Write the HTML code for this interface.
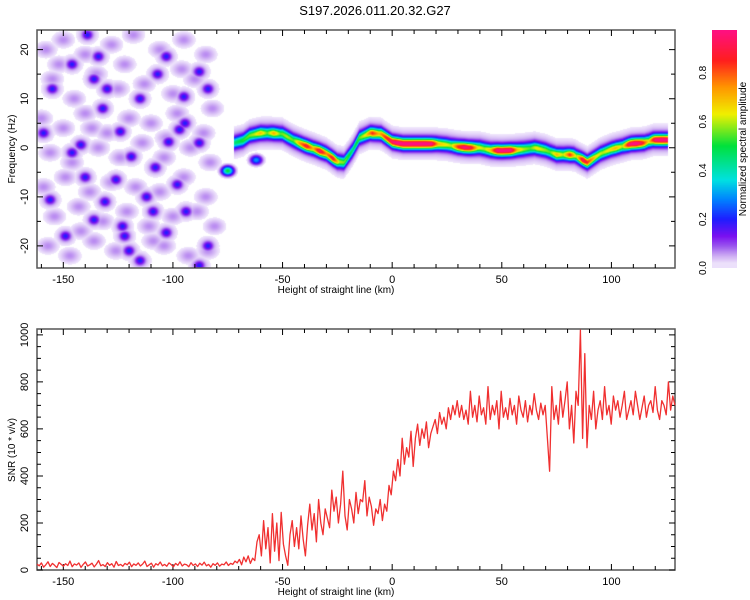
<!DOCTYPE html>
<html><head><meta charset="utf-8">
<style>
html,body{margin:0;padding:0;background:#fff;}
#wrap{position:relative;width:750px;height:600px;overflow:hidden;font-family:"Liberation Sans",sans-serif;}
canvas{position:absolute;}
svg{position:absolute;left:0;top:0;}
text{font-family:"Liberation Sans",sans-serif;fill:#000;}
</style></head>
<body>
<div id="wrap">
<canvas id="heat" width="638" height="238" style="left:37px;top:30px"></canvas>
<canvas id="cbar" width="25" height="238" style="left:712px;top:30px"></canvas>
<svg id="svg" width="750" height="600"></svg>
</div>
<script>
// ---------- data ----------
const xMin = -162, xMax = 129;
const fMin = -24.5, fMax = 24;
const snrMax = 1025;
const xTicks = [-150, -100, -50, 0, 50, 100];
const fTicks = [-20, -10, 0, 10, 20];
const snrTicks = [0, 200, 400, 600, 800, 1000];
const cbTicks = ["0.0", "0.2", "0.4", "0.6", "0.8"];

const ridgeX = [-72,-68,-65,-60,-55,-50,-45,-40,-35,-30,-25,-22,-18,-15,-10,-5,0,5,10,20,25,30,35,40,45,50,55,60,65,70,75,80,83,89,95,100,105,109,115,119,124,126];
const ridgeF = [1,1.5,2.5,3,3,2.8,1.5,0.5,-0.3,-1.2,-2.8,-3,-0.5,2,3,2.8,1.2,0.8,0.8,0.8,0.6,0.2,0,0,-0.5,-0.6,-0.5,-0.3,0,-0.5,-1.4,-1.4,-1.5,-3,-1.2,-0.3,0.3,0.8,1,1.6,1.6,1.6];

const ampX = [-72,-69,-66,-63,-60,-57,-54,-51,-48,-45,-42,-39,-36,-33,-30,-27,-24,-21,-18,-15,-12,-9,-6,-3,0,3,6,9,12,15,18,21,24,27,30,33,36,39,42,45,48,51,54,57,60,63,66,69,72,75,78,81,84,87,90,93,96,99,102,105,108,111,114,117,120,123,126];
const ampA = [.35,.4,.45,.5,.6,.45,.62,.45,.5,.45,.65,.8,.6,.85,.65,.8,.5,.45,.35,.45,.55,.75,.6,.75,.85,.92,.92,.92,.92,.92,.88,.6,.55,.5,.75,.88,.8,.55,.5,.6,.9,.9,.9,.6,.5,.45,.55,.5,.45,.6,.5,.75,.5,.85,.7,.55,.5,.55,.6,.5,.85,.92,.8,.55,.88,.92,.88];

const blobX = [-75,-62];
const blobF = [-4.7,-2.5];
const blobA = [0.5,0.3];

const darkX = [-134,-103,-94.5,-88,-107,-124,-142,-132,-108,-123,-122,-109,-149,-88,-131,-98,-140,-115,-155,-159,-136,-84,-120,-115,-97,-130,-146,-139,-146,-126,-94,-102,-112,-88,-156,-136,-103,-84,-95,-119];
const darkF = [18.6,18.6,5,1,15,3.3,0.6,8,-4,-16,-18,-13,-18,-24,-11,-7.5,-6,10,12,3,14,12,-21,-23,3.7,12,17,23,-1,-6.5,-13,1.2,-10,15.5,-10.6,-14.7,-17.3,-20,10.4,-1.8];

const faintX = [-158,-150,-140,-128,-118,-106,-95,-85,-155,-145,-135,-125,-113,-100,-90,-82,-160,-150,-140,-130,-120,-110,-98,-86,-156,-146,-134,-124,-114,-104,-92,-83,-159,-149,-138,-128,-117,-106,-95,-85,-154,-143,-132,-121,-111,-100,-89,-81,-157,-147,-136,-126,-115,-104,-93,-84,-152,-122,-96,-142,-109,-137,-103];
const faintF = [20,22,19,21,23,20,22,19,14,10,15,12,13,11,14,8,6,4,7,3,6,5,7,3,-1,-3,0,-2,1,-2,0,-3,-8,-6,-9,-7,-8,-9,-6,-10,-14,-12,-15,-13,-16,-14,-13,-16,-20,-22,-19,-21,-23,-20,-22,-21,17,17,16,-17,-19,4,2];

const snrVals = [
25,18,30,12,22,35,15,28,20,10,32,24,16,27,19,38,14,26,21,30,11,24,34,17,22,29,13,25,40,18,23,15,31,20,27,12,36,19,24,16,28,22,33,14,26,20,30,17,25,38,15,22,29,12,27,21,34,18,24,16,30,23,13,28,20,35,17,25,22,14,31,19,26,15,29,21,33,18,24,12,27,20,30,16,25,22,34,19,28,24,38,
30,45,22,55,35,60,28,50,40,
120,150,60,210,90,180,30,240,80,200,40,245,110,60,20,150,210,100,
180,90,230,130,60,190,280,170,240,120,300,200,150,260,220,180,340,250,310,200,280,420,230,170,300,
260,200,330,240,300,290,380,230,310,270,190,260,240,300,210,280,250,360,320,
420,380,470,400,560,450,520,480,590,440,560,620,530,600,560,630,520,580,610,640,580,670,620,650,600,690,640,700,660,720,650,
700,640,680,620,760,650,700,630,740,660,690,620,780,640,700,660,720,600,760,650,690,640,730,660,700,620,740,680,650,720,630,700,660,750,680,640,710,660,700,
560,420,780,640,700,620,760,650,720,800,600,700,540,760,700,1020,560,920,520,700,640,760,600,
680,720,640,780,660,700,620,740,680,720,650,700,760,640,680,720,660,760,700,640,690,740,650,700,720,670,780,680,640,720,700,660,800,680,740,700
];

// ---------- geometry ----------
const P1 = {l:37, r:675, t:30, b:268};
const P2 = {l:37, r:675, t:329, b:570};
const CB = {l:712, r:737, t:30, b:268};
const xs = (v,P)=> P.l + (v - xMin)/(xMax - xMin)*(P.r - P.l);
const fs = v => P1.b - (v - fMin)/(fMax - fMin)*(P1.b - P1.t);
const ss = v => P2.b - v/snrMax*(P2.b - P2.t);
const cbs = v => CB.b - v/1.0*(CB.b - 24);

// ---------- colormap ----------
const stops = [[0,[255,255,255]],[0.02,[236,224,251]],[0.05,[205,172,243]],[0.09,[154,85,238]],[0.13,[122,16,240]],[0.2,[30,30,255]],[0.28,[0,130,255]],[0.36,[0,225,225]],[0.5,[0,225,60]],[0.63,[240,240,0]],[0.74,[255,150,0]],[0.85,[255,30,30]],[0.97,[255,16,128]],[1.01,[255,16,128]]];
function cmap(v){
  if(v<0.015) return [255,255,255];
  for(let i=1;i<stops.length;i++){
    if(v<=stops[i][0]){const a=stops[i-1],b=stops[i];const t=(v-a[0])/(b[0]-a[0]);
      return [0,1,2].map(k=>Math.round(a[1][k]+(b[1][k]-a[1][k])*t));}
  }
  return stops[stops.length-1][1];
}
function interp(xa,ya,x){
  if(x<=xa[0]) return ya[0];
  if(x>=xa[xa.length-1]) return ya[ya.length-1];
  for(let i=1;i<xa.length;i++) if(x<=xa[i]){const t=(x-xa[i-1])/(xa[i]-xa[i-1]);return ya[i-1]+(ya[i]-ya[i-1])*t;}
}

// ---------- heatmap ----------
(function(){
  const c=document.getElementById('heat'),ctx=c.getContext('2d');
  const W=c.width,H=c.height,img=ctx.createImageData(W,H);
  for(let px=0;px<W;px++){
    const x = xMin + (px+0.5)/W*(xMax-xMin);
    const rf = interp(ridgeX,ridgeF,x), ra = interp(ampX,ampA,x);
    const inR = x>=ridgeX[0] && x<=ridgeX[ridgeX.length-1];
    for(let py=0;py<H;py++){
      const f = fMax - (py+0.5)/H*(fMax-fMin);
      let v=0;
      if(inR){const d=f-rf; v=Math.max(v, ra*Math.exp(-(d*d)/1.0) + 0.1*Math.exp(-(d*d)/6));}
      for(let i=0;i<blobX.length;i++){const dx=(x-blobX[i])/2.6,df=(f-blobF[i])/0.9;v=Math.max(v,blobA[i]*Math.exp(-(dx*dx+df*df)));}
      if(x<-76){
        for(let i=0;i<faintX.length;i++){const dx=(x-faintX[i])/4.5,df=(f-faintF[i])/1.5;const e=dx*dx+df*df;if(e<5)v=Math.max(v,0.065*Math.exp(-e));}
        for(let i=0;i<darkX.length;i++){const dx=(x-darkX[i])/2.0,df=(f-darkF[i])/0.8;const e=dx*dx+df*df;if(e<12)v=Math.max(v,0.14*Math.exp(-e)+0.06*Math.exp(-e/5));}
      }
      const col=cmap(v),k=(py*W+px)*4;
      img.data[k]=col[0];img.data[k+1]=col[1];img.data[k+2]=col[2];img.data[k+3]=255;
    }
  }
  ctx.putImageData(img,0,0);
  const cb=document.getElementById('cbar'),cx=cb.getContext('2d');
  for(let py=0;py<cb.height;py++){
    const v=(CB.b-(CB.t+py+0.5))/(CB.b-24);
    const col=v<0.015?[236,224,251]:cmap(v);
    cx.fillStyle=`rgb(${col[0]},${col[1]},${col[2]})`;cx.fillRect(0,py,25,1);
  }
})();

// ---------- SVG axes ----------
const svg=document.getElementById('svg'),NS='http://www.w3.org/2000/svg';
function el(tag,attrs,parent){const e=document.createElementNS(NS,tag);for(const k in attrs)e.setAttribute(k,attrs[k]);(parent||svg).appendChild(e);return e;}
function txt(s,x,y,attrs){const t=el('text',Object.assign({x:x,y:y,'font-size':11,'text-anchor':'middle'},attrs||{}));t.textContent=s;return t;}

const title=txt('S197.2026.011.20.32.G27',375,15,{'font-size':13});



function frame(P,name){
  const r=el('rect',{x:P.l,y:P.t,width:P.r-P.l,height:P.b-P.t,fill:'none',stroke:'#555','stroke-width':1.5});
  
  
}
function xAxis(P,prefix){
  for(let v=-160;v<=120;v+=10){
    const x=xs(v,P),major=(v%50===0),len=major?6:4;
    const t=el('path',{d:`M${x},${P.b}v${-len}M${x},${P.t}v${len}`,stroke:'#000','stroke-width':1});
    
    
  }
  xTicks.forEach(v=>{const l=txt(String(v),xs(v,P),P.b+15);
    
    });
  const xt=txt('Height of straight line (km)',(P.l+P.r)/2-20,P.b+25,{'font-size':10});
  
  
}
frame(P1,'spectrogram-frame');
xAxis(P1,'spectrogram');
for(let v=-20;v<=20;v+=5){
  const y=fs(v),len=(v%10===0)?6:4;
  const t=el('path',{d:`M${P1.l},${y}h${len}M${P1.r},${y}h${-len}`,stroke:'#000'});
  
  
}
fTicks.forEach(v=>{const y=fs(v);const l=txt(String(v),28,y,{transform:`rotate(-90 28 ${y})`});
  
  });
const yt1=txt('Frequency (Hz)',15,149,{'font-size':10,transform:'rotate(-90 15 149)'});



// colorbar labels and ticks
cbTicks.forEach(s=>{const y=cbs(parseFloat(s));const l=txt(s,706,y,{transform:`rotate(-90 706 ${y})`,'font-size':10});
  
  });
const cbt=txt('Normalized spectral amplitude',746,149,{'font-size':10,transform:'rotate(-90 746 149)'});



// bottom panel
frame(P2,'snr-frame');
xAxis(P2,'snr');
for(let v=0;v<=1000;v+=50){
  const y=ss(v),len=(v%200===0)?6:4;
  const t=el('path',{d:`M${P2.l},${y}h${len}M${P2.r},${y}h${-len}`,stroke:'#000'});
  
  
}
snrTicks.forEach(v=>{const y=ss(v);const l=txt(String(v),28,y,{transform:`rotate(-90 28 ${y})`});
  
  });
const yt2=txt('SNR (10 * v/v)',15,450,{'font-size':10,transform:'rotate(-90 15 450)'});



const n=snrVals.length;
const pts=snrVals.map((v,i)=>{const x=xMin+i*(xMax-xMin)/(n-1);return xs(x,P2).toFixed(1)+','+ss(v).toFixed(1);}).join(' ');
const line=el('polyline',{points:pts,fill:'none',stroke:'#f03030','stroke-width':1.3,'stroke-linejoin':'round'});


</script>
</body></html>
